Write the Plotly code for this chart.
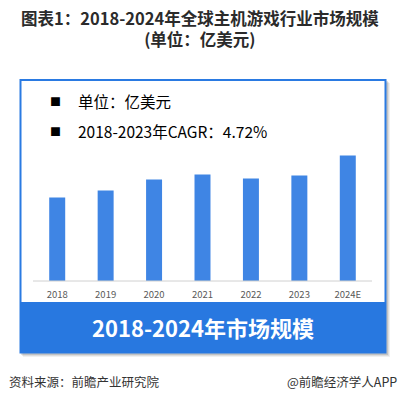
import plotly.graph_objects as go

W, H = 399, 402

years = ["2018", "2019", "2020", "2021", "2022", "2023", "2024E"]
market_size = [417, 453, 507, 533, 512, 527, 628]

title_line1 = "图表1：2018-2024年全球主机游戏行业市场规模"
title_line2 = "(单位：亿美元)"
legend_unit = "单位：亿美元"
legend_cagr = "2018-2023年CAGR：4.72%"
banner_text = "2018-2024年市场规模"
source_text = "资料来源：前瞻产业研究院"
brand_text = "@前瞻经济学人APP"

FONT = "Noto Sans CJK SC, Noto Sans, sans-serif"


def px(x):
    return x / W


def py(y):
    return (H - y) / H


fig = go.Figure()
fig.add_trace(go.Bar(
    x=years, y=market_size,
    marker=dict(color="#3f85e4", line=dict(width=0)),
    width=0.33,
    hoverinfo="x+y",
))

shapes = []
# shadow
for off, alpha in [(4, 0.06), (3, 0.08), (2, 0.12)]:
    shapes.append(dict(type="rect", xref="paper", yref="paper", layer="below",
                       x0=px(20 + off - 1), x1=px(386 + off), y0=py(353 + off), y1=py(80 + off - 1),
                       fillcolor=f"rgba(0,0,0,{alpha})", line=dict(width=0)))
# white box with blue border
shapes.append(dict(type="rect", xref="paper", yref="paper", layer="below",
                   x0=px(20.5), x1=px(385.5), y0=py(352.5), y1=py(80),
                   fillcolor="white", line=dict(color="#2a7ae2", width=2)))
# blue banner
shapes.append(dict(type="rect", xref="paper", yref="paper", layer="below",
                   x0=px(20), x1=px(386), y0=py(353), y1=py(302),
                   fillcolor="#2878e0", line=dict(width=0)))
# baseline
shapes.append(dict(type="line", xref="paper", yref="paper", layer="above",
                   x0=px(33), x1=px(372), y0=py(281), y1=py(281),
                   line=dict(color="#d0d0d0", width=1)))

annotations = [
    dict(text=f"<b>{title_line1}</b><br><b>{title_line2}</b>", x=px(199.5), y=py(28), xref="paper", yref="paper",
         showarrow=False, font=dict(size=16.5, color="#2b2b2b", family=FONT), xanchor="center", yanchor="middle"),
    dict(text="■", x=px(55), y=py(101), xref="paper", yref="paper", showarrow=False,
         font=dict(size=11, color="#000", family=FONT), xanchor="center", yanchor="middle"),
    dict(text=legend_unit, x=px(76), y=py(101), xref="paper", yref="paper", showarrow=False,
         font=dict(size=15.5, color="#000", family=FONT), xanchor="left", yanchor="middle"),
    dict(text="■", x=px(55), y=py(130.5), xref="paper", yref="paper", showarrow=False,
         font=dict(size=11, color="#000", family=FONT), xanchor="center", yanchor="middle"),
    dict(text=legend_cagr, x=px(76), y=py(130.5), xref="paper", yref="paper", showarrow=False,
         font=dict(size=15.5, color="#000", family=FONT), xanchor="left", yanchor="middle"),
    dict(text=f"<b>{banner_text}</b>", x=px(203), y=py(327), xref="paper", yref="paper", showarrow=False,
         font=dict(size=22, color="white", family=FONT), xanchor="center", yanchor="middle"),
    dict(text=source_text, x=px(7), y=py(381), xref="paper", yref="paper", showarrow=False,
         font=dict(size=12.5, color="#333", family=FONT), xanchor="left", yanchor="middle"),
    dict(text=brand_text, x=px(399), y=py(381), xref="paper", yref="paper", showarrow=False,
         font=dict(size=12.5, color="#333", family=FONT), xanchor="right", yanchor="middle"),
]

fig.update_layout(
    width=W, height=H,
    margin=dict(l=0, r=0, t=0, b=0),
    paper_bgcolor="white", plot_bgcolor="rgba(0,0,0,0)",
    showlegend=False,
    shapes=shapes,
    annotations=annotations,
    bargap=0.67,
    xaxis=dict(domain=[px(33), px(372)], range=[-0.5, 6.5], showgrid=False, zeroline=False,
               showline=False, ticks="outside", ticklen=5, tickcolor="rgba(0,0,0,0)",
               tickfont=dict(size=9.5, color="#595959", family=FONT), anchor="y"),
    yaxis=dict(domain=[py(281), py(150)], range=[0, 655], visible=False, fixedrange=True),
)

fig.write_html("out.html")
